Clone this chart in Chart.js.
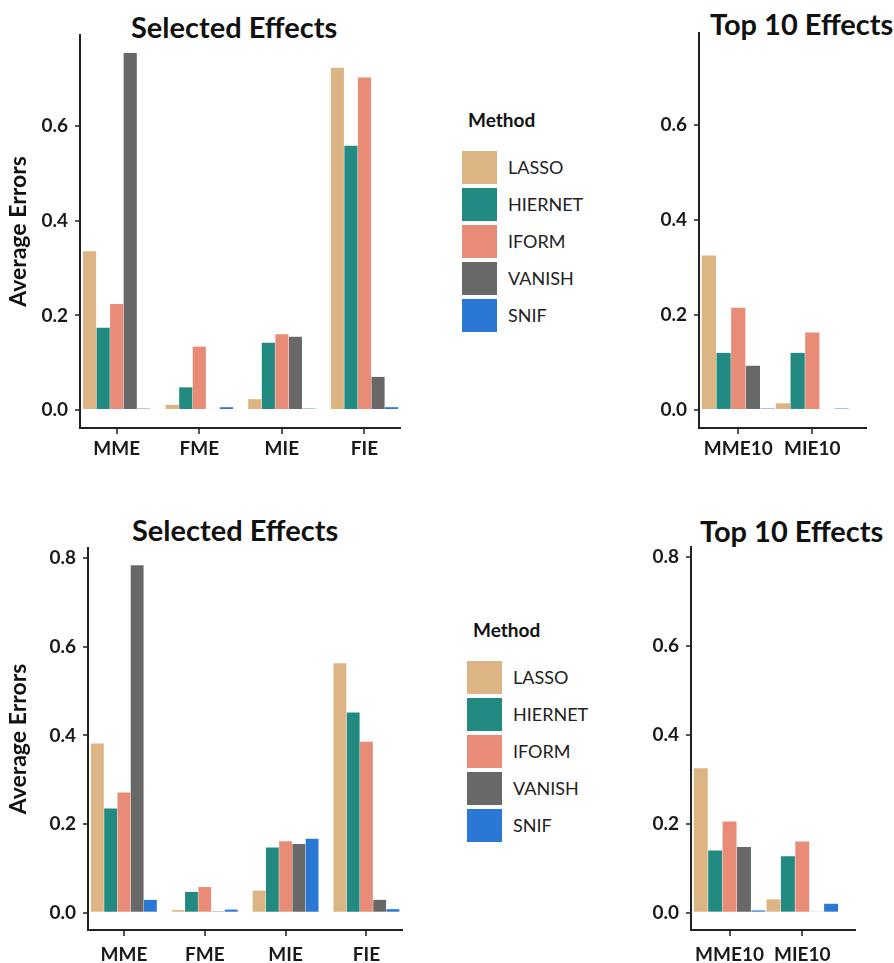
<!DOCTYPE html>
<html>
<head>
<meta charset="utf-8">
<title>Average Errors by Method</title>
<script src="https://cdn.jsdelivr.net/npm/chart.js"></script>
<style>
    body {
        margin: 0;
        width: 894px;
        height: 963px;
        position: relative;
        overflow: hidden;
        background: #fff;
        font-family: Lato, sans-serif;
        color: #1a1a1a;
    }

    canvas {
        position: absolute;
    }

    .ttl {
        position: absolute;
        font-size: 29px;
        line-height: 29px;
        font-weight: bold;
        color: #111;
        white-space: nowrap;
    }

    .legend {
        position: absolute;
    }

    .legend .head {
        font-size: 19px;
        line-height: 19px;
        font-weight: bold;
        color: #111;
        margin-left: 6px;
        margin-bottom: 22px;
    }

    .legend .row {
        height: 37px;
        display: flex;
        align-items: flex-start;
    }

    .legend .sw {
        width: 35px;
        height: 33px;
    }

    .legend .lab {
        font-size: 18px;
        line-height: 33px;
        margin-left: 11px;
        color: #222;
    }
</style>
</head>

<body>
    <div class="ttl" style="left:131px; top:12px;">Selected Effects</div>
    <div class="ttl" style="left:710px; top:9px;">Top 10 Effects</div>
    <div class="ttl" style="left:132px; top:515px;">Selected Effects</div>
    <div class="ttl" style="left:700px; top:516px;">Top 10 Effects</div>

    <div class="legend" id="leg1" style="left:462px; top:110px;"></div>
    <div class="legend" id="leg2" style="left:467px; top:620px;"></div>

    <canvas id="c1" width="440" height="470" style="left:0px; top:0px;"></canvas>
    <canvas id="c2" width="274" height="470" style="left:620px; top:0px;"></canvas>
    <canvas id="c3" width="440" height="463" style="left:0px; top:500px;"></canvas>
    <canvas id="c4" width="282" height="463" style="left:612px; top:500px;"></canvas>

    <script>
        const methods = ['LASSO', 'HIERNET', 'IFORM', 'VANISH', 'SNIF'];
        const colors = ['#DDB584', '#228A80', '#E88C77', '#686868', '#2B77D4'];

        const selectedCats = ['MME', 'FME', 'MIE', 'FIE'];
        const topCats = ['MME10', 'MIE10'];

        // rows follow the methods order: LASSO, HIERNET, IFORM, VANISH, SNIF
        const selectedUpper = [
            [0.336, 0.011, 0.023, 0.724],
            [0.174, 0.048, 0.142, 0.559],
            [0.224, 0.134, 0.160, 0.703],
            [0.755, 0.002, 0.155, 0.070],
            [0.003, 0.006, 0.003, 0.006]
        ];
        const topUpper = [
            [0.325, 0.014],
            [0.120, 0.120],
            [0.215, 0.163],
            [0.093, 0.002],
            [0.003, 0.003]
        ];
        const selectedLower = [
            [0.382, 0.006, 0.050, 0.563],
            [0.235, 0.047, 0.147, 0.452],
            [0.271, 0.058, 0.161, 0.386],
            [0.784, 0.003, 0.155, 0.029],
            [0.029, 0.007, 0.167, 0.008]
        ];
        const topLower = [
            [0.325, 0.030],
            [0.140, 0.127],
            [0.205, 0.160],
            [0.148, 0.002],
            [0.005, 0.020]
        ];

        const yTicksUpper = [0, 0.2, 0.4, 0.6];
        const yTicksLower = [0, 0.2, 0.4, 0.6, 0.8];

        // legend boxes next to the left panels
        function buildLegend(id) {
            const el = document.getElementById(id);
            let html = '<div class="head">Method</div>';
            for (let i = 0; i < methods.length; i++) {
                html += '<div class="row"><div class="sw" style="background:' + colors[i] + '"></div>' +
                    '<div class="lab">' + methods[i] + '</div></div>';
            }
            el.innerHTML = html;
        }
        buildLegend('leg1');
        buildLegend('leg2');

        function makeChart(id, cats, series, opt) {
            const ctx = document.getElementById(id).getContext('2d');
            return new Chart(ctx, {
                type: 'bar',
                data: {
                    labels: cats.map((c, i) => i + 1),
                    datasets: methods.map((m, k) => ({
                        label: m,
                        data: series[k],
                        backgroundColor: colors[k],
                        borderWidth: 0,
                        categoryPercentage: opt.catPct,
                        barPercentage: 0.97
                    }))
                },
                options: {
                    responsive: false,
                    animation: false,
                    layout: {
                        padding: { top: opt.top, right: opt.right, left: 0, bottom: 0 }
                    },
                    plugins: {
                        legend: { display: false },
                        title: { display: false },
                        tooltip: { enabled: false }
                    },
                    scales: {
                        x: {
                            type: 'linear',
                            min: opt.xMin,
                            max: opt.xMax,
                            offset: false,
                            afterBuildTicks: s => { s.ticks = cats.map((c, i) => ({ value: i + 1 })); },
                            afterFit: s => { s.height = opt.xh; },
                            ticks: {
                                callback: v => cats[v - 1],
                                autoSkip: false,
                                maxRotation: 0,
                                padding: opt.xPad,
                                color: '#1a1a1a',
                                font: { family: 'Lato', size: 19, weight: 'bold' }
                            },
                            grid: {
                                offset: false,
                                drawOnChartArea: false,
                                tickLength: 6,
                                tickColor: '#555',
                                lineWidth: 2
                            },
                            border: { display: true, color: '#222', width: 2 }
                        },
                        y: {
                            min: opt.yMin,
                            max: opt.yMax,
                            afterBuildTicks: s => { s.ticks = opt.yTicks.map(v => ({ value: v })); },
                            afterFit: s => { s.width = opt.yw; },
                            ticks: {
                                callback: v => v.toFixed(1),
                                padding: 7,
                                color: '#1a1a1a',
                                font: { family: 'Lato', size: 19, weight: 'bold' }
                            },
                            grid: {
                                drawOnChartArea: false,
                                tickLength: 5,
                                tickColor: '#555',
                                lineWidth: 2
                            },
                            border: { display: true, color: '#222', width: 2 },
                            title: {
                                display: opt.yTitle !== '',
                                text: opt.yTitle,
                                color: '#111',
                                padding: { top: 5, bottom: 0 },
                                font: { family: 'Lato', size: 23, weight: 'bold' }
                            }
                        }
                    }
                }
            });
        }

        makeChart('c1', selectedCats, selectedUpper, {
            top: 35, right: 40, yw: 80, xh: 42, xPad: 3, catPct: 0.82,
            xMin: 0.556, xMax: 4.43, yMin: -0.038, yMax: 0.793,
            yTicks: yTicksUpper, yTitle: 'Average Errors'
        });
        makeChart('c2', topCats, topUpper, {
            top: 33, right: 28, yw: 79, xh: 42, xPad: 3, catPct: 0.99,
            xMin: 0.47, xMax: 2.725, yMin: -0.038, yMax: 0.793,
            yTicks: yTicksUpper, yTitle: ''
        });
        makeChart('c3', selectedCats, selectedLower, {
            top: 48, right: 38, yw: 88, xh: 33, xPad: 7, catPct: 0.82,
            xMin: 0.556, xMax: 4.44, yMin: -0.039, yMax: 0.823,
            yTicks: yTicksLower, yTitle: 'Average Errors'
        });
        makeChart('c4', topCats, topLower, {
            top: 47, right: 39, yw: 79, xh: 33, xPad: 7, catPct: 0.99,
            xMin: 0.47, xMax: 2.725, yMin: -0.039, yMax: 0.823,
            yTicks: yTicksLower, yTitle: ''
        });
    </script>
</body>

</html>
